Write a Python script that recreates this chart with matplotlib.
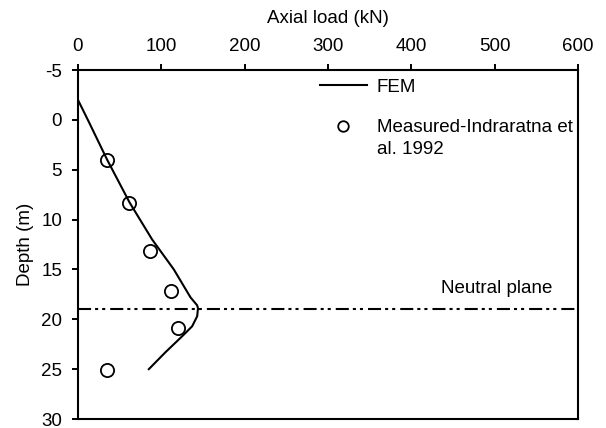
import matplotlib.pyplot as plt

plt.rcParams['font.family'] = ['Liberation Sans', 'DejaVu Sans']
plt.rcParams['axes.unicode_minus'] = False
plt.rcParams['lines.scale_dashes'] = False

# FEM axial load profile
fem_load = [0, 13, 35, 62, 89, 115, 135, 143, 144, 143, 137, 125, 105, 85]
fem_depth = [-2, 0.2, 4, 8.3, 12, 15, 17.8, 18.6, 18.9, 19.7, 20.7, 21.7, 23.3, 25.0]

# measured values (Indraratna et al. 1992)
meas_load = [35, 61, 86, 112, 120, 35]
meas_depth = [4, 8.3, 13.2, 17.2, 20.9, 25.1]

neutral_depth = 19.0

fig = plt.figure(figsize=(6.06, 4.28), dpi=100)
ax = fig.add_axes([0.1287, 0.021, 0.8251, 0.8154])

ax.plot(fem_load, fem_depth, color='black', lw=1.5, label='FEM')
ax.plot(meas_load, meas_depth, linestyle='none', marker='o', markersize=9.5,
        markerfacecolor='none', markeredgecolor='black', markeredgewidth=1.3,
        label='Measured-Indraratna et')
ax.axhline(neutral_depth, color='black', lw=1.5, dashes=(9.4, 2.9, 2.2, 2.9, 2.2, 3.6))
ax.text(502, 16.9, 'Neutral plane', fontsize=13.5, ha='center', va='center')

ax.set_xlim(0, 600)
ax.set_ylim(30, -5)
ax.set_xticks(range(0, 601, 100))
ax.set_yticks(range(-5, 31, 5))
ax.xaxis.tick_top()
ax.xaxis.set_label_position('top')
ax.set_xlabel('Axial load (kN)', fontsize=13.5, labelpad=11)
ax.set_ylabel('Depth (m)', fontsize=13.5, labelpad=5)
ax.tick_params(direction='out', width=1.4, length=4.5, labelsize=13.5)
ax.tick_params(axis='x', pad=6)
ax.tick_params(axis='y', pad=7)
for side in ax.spines:
    ax.spines[side].set_linewidth(1.5)

leg = ax.legend(loc='upper left', bbox_to_anchor=(0.484, 0.975), frameon=False,
                fontsize=13.5, handlelength=2.5, labelspacing=1.25, markerscale=0.8,
                handletextpad=0.53, borderpad=0, borderaxespad=0)
ax.annotate('al. 1992', xy=(0, 0), xycoords=leg.get_texts()[1],
            xytext=(0, -3), textcoords='offset points', fontsize=13.5,
            ha='left', va='top', zorder=10)

plt.savefig('out.png')
plt.close(fig)
